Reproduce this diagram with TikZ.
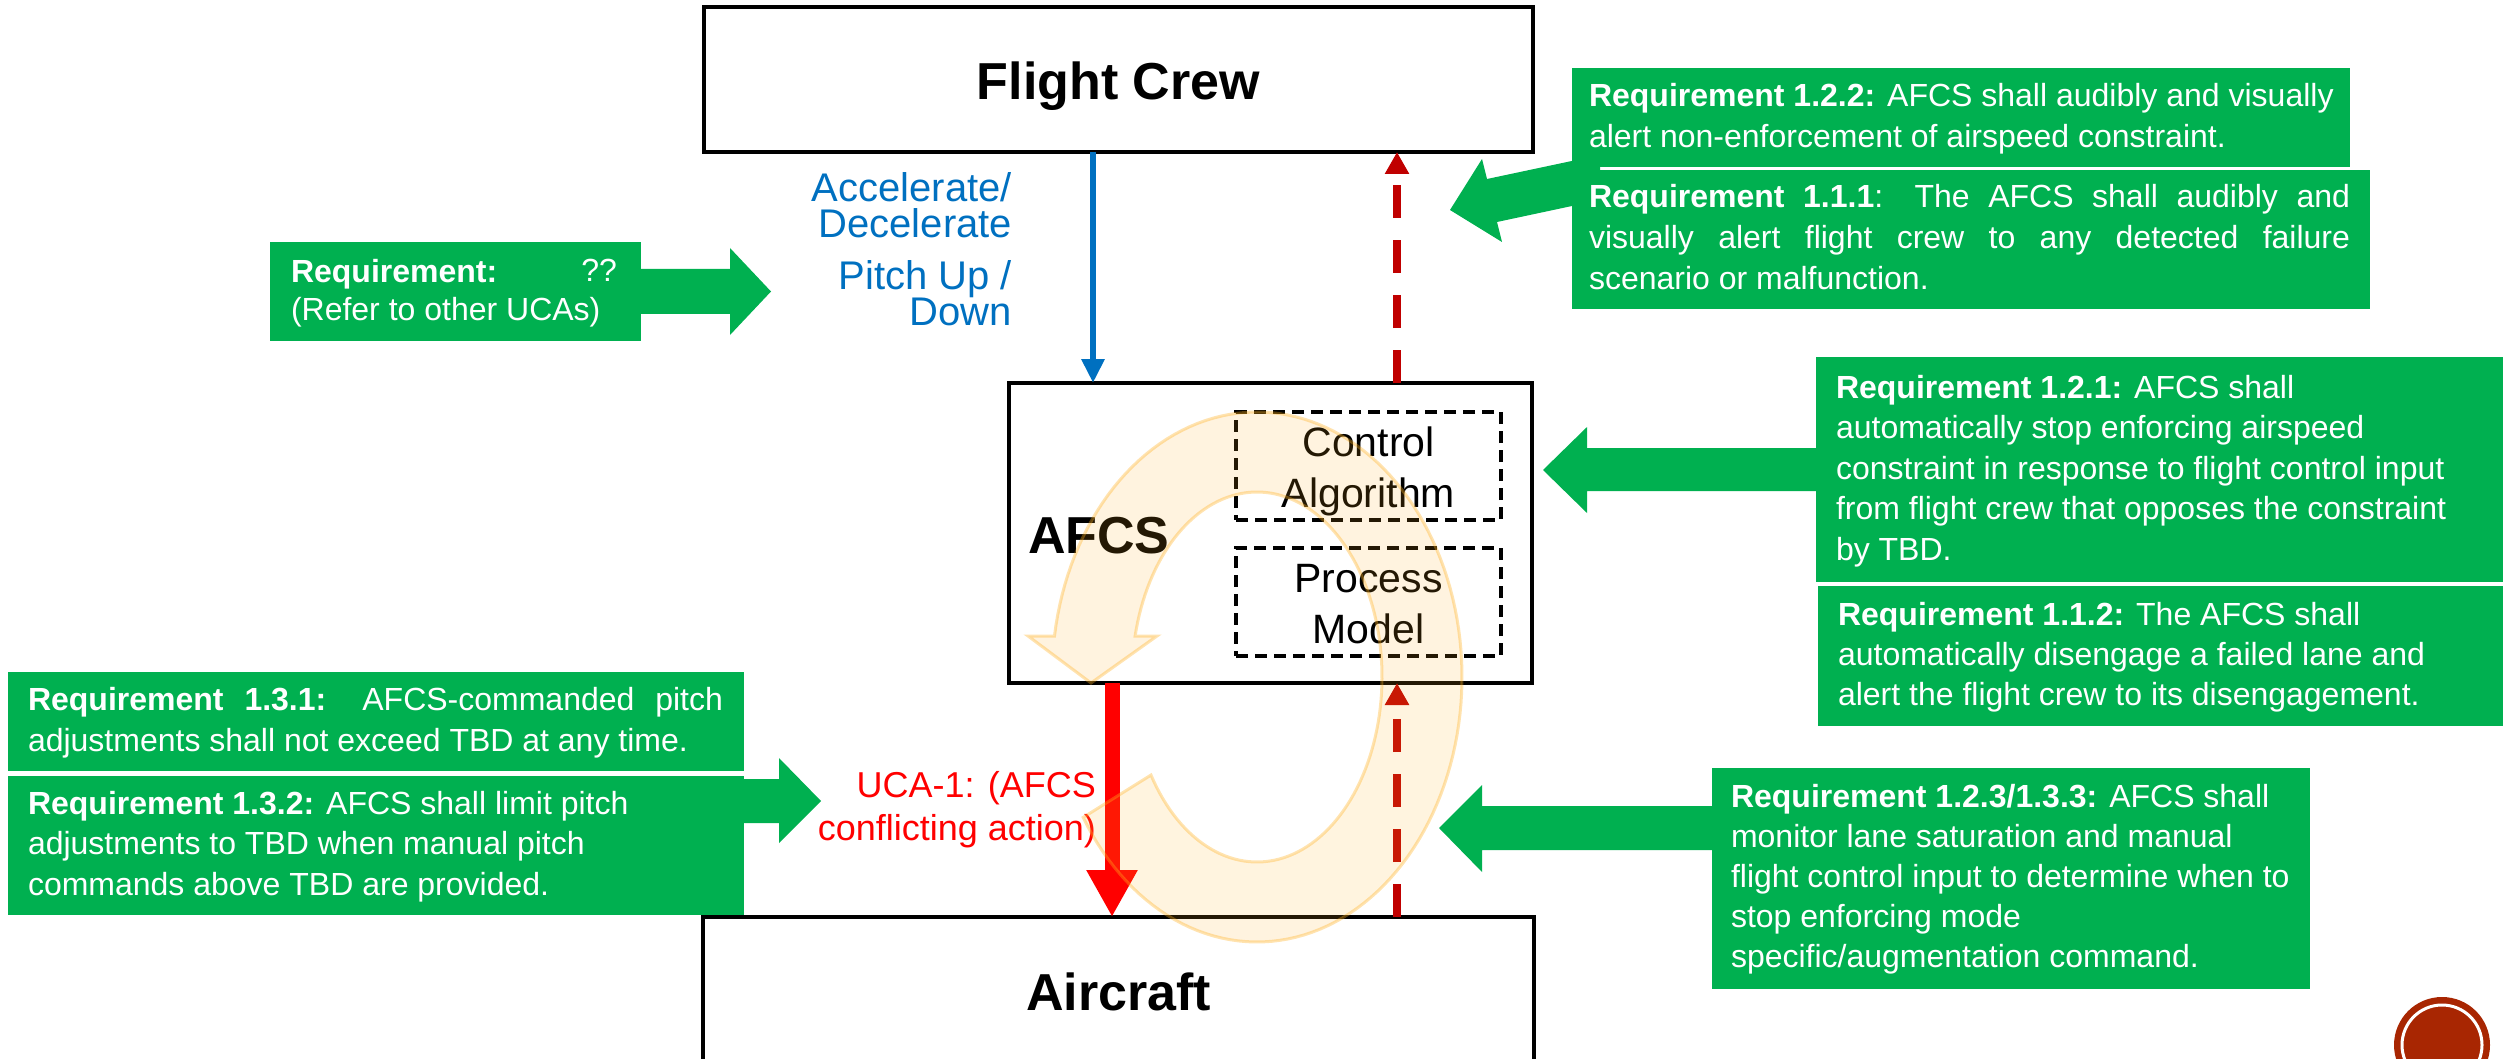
\documentclass[tikz,border=0pt]{standalone}
\usepackage{fontspec}
\setmainfont{Liberation Sans}
\usetikzlibrary{arrows.meta}
\definecolor{grn}{RGB}{0,176,80}
\definecolor{blu}{RGB}{0,112,192}
\definecolor{dred}{RGB}{192,0,0}
\definecolor{ringc}{RGB}{255,176,30}
\definecolor{sealc}{RGB}{168,38,2}
\newcommand\fz[2]{\fontsize{#1pt}{#2pt}\selectfont\lineskiplimit=-1000pt\relax}
\newcommand\st[1]{\rule{0pt}{#1pt}}
\newcommand\jl[2]{\makebox[#1pt][s]{#2}}
\begin{document}
\begin{tikzpicture}[x=1pt,y=-1pt,
  every node/.style={inner sep=0pt,outer sep=0pt},
  blockbox/.style={draw=black,line width=4pt,fill=white,anchor=north west},
  dashbox/.style={draw=black,line width=4pt,dash pattern=on 12pt off 7pt,anchor=north west},
  reqbox/.style={fill=grn,anchor=north west},
  reqtext/.style={text=white,anchor=north west,align=left,font=\fz{32}{41}},
  titletext/.style={font=\fz{52}{60}\bfseries,anchor=base},
  fbline/.style={dred,line width=8pt,dash pattern=on 33pt off 22pt,-{Triangle[width=23pt,length=22pt]}},
]
\useasboundingbox (0,0) rectangle (2503,1059);
\clip (0,0) rectangle (2503,1059);

% green block arrows
\fill[grn] (630,269) -- (730,269) -- (730,248) -- (771,291.5) -- (730,335) -- (730,314) -- (630,314) -- cycle;
\fill[grn] (1600,155) -- (1487,179) -- (1482,159) -- (1450,210) -- (1502,242) -- (1497,222) -- (1600,200) -- cycle;
\fill[grn] (1830,448) -- (1587,448) -- (1587,427) -- (1543,470) -- (1587,513) -- (1587,491) -- (1830,491) -- cycle;
\fill[grn] (730,779) -- (779,779) -- (779,758) -- (821,801) -- (779,843) -- (779,823) -- (730,823) -- cycle;
\fill[grn] (1725,806) -- (1482,806) -- (1482,785) -- (1439,828) -- (1482,872) -- (1482,850) -- (1725,850) -- cycle;

% green requirement boxes
\node[reqbox,minimum width=371pt,minimum height=99pt] (rqbox) at (270,242) {};
\node[reqtext,font=\fz{32}{38}] (rq) at (291,250) {\st{32}\textbf{Requirement:}\\(Refer to other UCAs)};
\node[text=white,font=\fz{32}{38},anchor=base east] (rqq) at (617,282) {??};

\node[reqbox,minimum width=778pt,minimum height=99pt] (r122box) at (1572,68) {};
\node[reqtext] (r122) at (1589,75) {\st{32}\textbf{Requirement 1.2.2:} AFCS shall audibly and visually\\alert non-enforcement of airspeed constraint.};

\node[reqbox,minimum width=798pt,minimum height=139pt] (r111box) at (1572,170) {};
\node[reqtext] (r111) at (1589,176) {\st{32}\jl{761}{\textbf{Requirement 1.1.1}: The AFCS shall audibly and}\\\jl{761}{visually alert flight crew to any detected failure}\\scenario or malfunction.};

\node[reqbox,minimum width=700pt,minimum height=225pt] (r121box) at (1816,357) {};
\node[reqtext,font=\fz{32}{40.5}] (r121) at (1836,366) {\st{32}\textbf{Requirement 1.2.1:} AFCS shall\\automatically stop enforcing airspeed\\constraint in response to flight control input\\from flight crew that opposes the constraint\\by TBD.};

\node[reqbox,minimum width=700pt,minimum height=140pt] (r112box) at (1818,586) {};
\node[reqtext,font=\fz{32}{40}] (r112) at (1838,593) {\st{32}\textbf{Requirement 1.1.2:} The AFCS shall\\automatically disengage a failed lane and\\alert the flight crew to its disengagement.};

\node[reqbox,minimum width=736pt,minimum height=99pt] (r131box) at (8,672) {};
\node[reqtext] (r131) at (28,678) {\st{32}\jl{695}{\textbf{Requirement 1.3.1:} AFCS-commanded pitch}\\adjustments shall not exceed TBD at any time.};

\node[reqbox,minimum width=736pt,minimum height=139pt] (r132box) at (8,776) {};
\node[reqtext,font=\fz{32}{40.5}] (r132) at (28,782) {\st{32}\textbf{Requirement 1.3.2:} AFCS shall limit pitch\\adjustments to TBD when manual pitch\\commands above TBD are provided.};

\node[reqbox,minimum width=598pt,minimum height=221pt] (r123box) at (1712,768) {};
\node[reqtext,font=\fz{32}{40.2}] (r123) at (1731,775) {\st{32}\textbf{Requirement 1.2.3/1.3.3:} AFCS shall\\monitor lane saturation and manual\\flight control input to determine when to\\stop enforcing mode\\specific/augmentation command.};

% control structure blocks
\node[blockbox,minimum width=829pt,minimum height=145pt] (fc) at (704,7) {};
\node[titletext] (fct) at (1118.5,100) {Flight Crew};

\node[blockbox,minimum width=523pt,minimum height=300pt] (afcs) at (1009,383) {};
\node[font=\fz{52}{60}\bfseries,anchor=base west] (afcst) at (1028,553) {AFCS};
\node[dashbox,minimum width=265pt,minimum height=108pt] (ca) at (1236,412) {};
\node[anchor=north,align=center,font=\fz{41}{51}] (cat) at (1368.5,415) {\st{41}Control\\Algorithm};
\node[dashbox,minimum width=265pt,minimum height=108pt] (pm) at (1236,548) {};
\node[anchor=north,align=center,font=\fz{41}{51}] (pmt) at (1368.5,551) {\st{41}Process\\Model};

\node[blockbox,minimum width=831pt,minimum height=200pt] (ac) at (703,917) {};
\node[titletext] (act) at (1118.5,1010) {Aircraft};

% connectors
\coordinate (cmdx) at (1093,0);
\coordinate (fbx) at (1397,0);
\coordinate (ucax) at (1112,0);
\draw[blu,line width=6pt,-{Triangle[width=22pt,length=24pt]}] (fc.south -| cmdx) -- (afcs.north -| cmdx);
\draw[fbline] (afcs.north -| fbx) -- (fc.south -| fbx);
\draw[fbline] (ac.north -| fbx) -- (afcs.south -| fbx);
\draw[red,line width=15pt,-{Triangle[width=48pt,length=47pt]}] (afcs.south -| ucax) -- (ac.north -| ucax);

% labels
\node[anchor=north east,align=right,text=blu,font=\fz{40}{36}] (lab1) at (1012,162) {\st{40}Accelerate/\\Decelerate};
\node[anchor=north east,align=right,text=blu,font=\fz{40}{36}] (lab2) at (1012,250) {\st{40}Pitch Up /\\Down};
\node[anchor=north east,align=right,text=red,font=\fz{36}{43}] (uca) at (1096,761) {\st{36}UCA-1: (AFCS\\conflicting action)};

% translucent control loop arrow
\path[fill=ringc,fill opacity=0.14,draw=ringc,draw opacity=0.35,line width=3pt]
  plot[domain=212:531.1,samples=140] ({1257+205*cos(\x)},{677-265*sin(\x)})
  -- (1028,636) -- (1091,683) -- (1157,636)
  -- plot[domain=527.2:212,samples=140] ({1257+125*cos(\x)},{677-185*sin(\x)})
  -- cycle;

% corner seal
\node[circle,fill=sealc,minimum size=96pt] (seal) at (2442,1045) {};
\draw[white,line width=3pt] (seal.center) circle[radius=40pt];
\end{tikzpicture}
\end{document}
